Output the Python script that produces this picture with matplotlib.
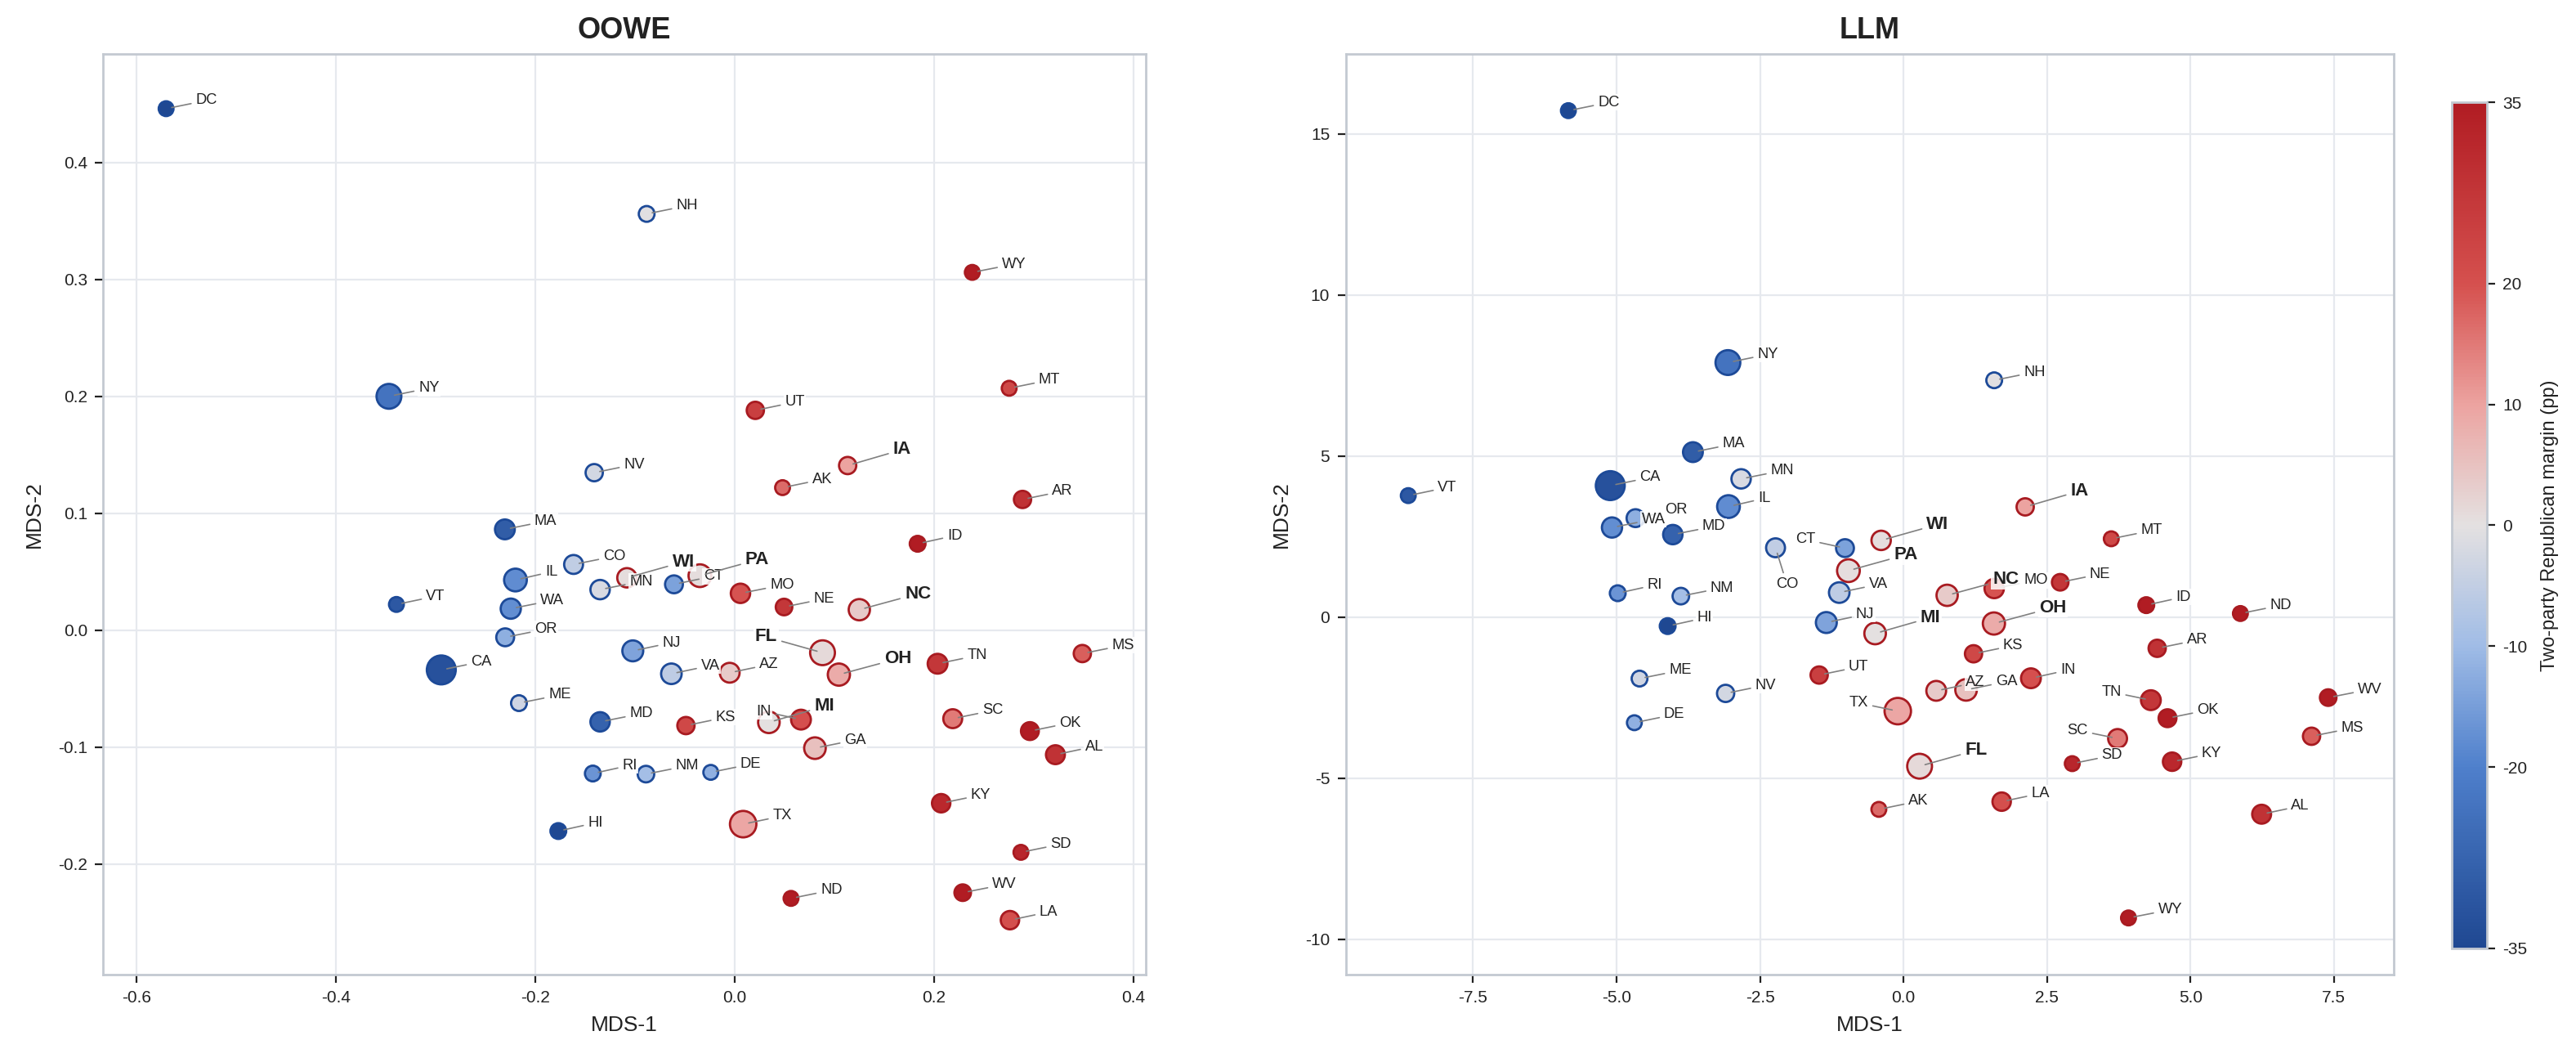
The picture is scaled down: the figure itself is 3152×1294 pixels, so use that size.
import numpy as np
import matplotlib
matplotlib.use("Agg")
import matplotlib.pyplot as plt
from matplotlib.colors import LinearSegmentedColormap, Normalize
from matplotlib.cm import ScalarMappable

plt.rcParams['font.family'] = ['Liberation Sans', 'DejaVu Sans']
plt.rcParams['axes.unicode_minus'] = False

# ---------------- data ----------------
states = ["AL", "AK", "AZ", "AR", "CA", "CO", "CT", "DE", "DC", "FL", "GA", "HI", "ID",
          "IL", "IN", "IA", "KS", "KY", "LA", "ME", "MD", "MA", "MI", "MN", "MS", "MO",
          "MT", "NE", "NV", "NH", "NJ", "NM", "NY", "NC", "ND", "OH", "OK", "OR", "PA",
          "RI", "SC", "SD", "TN", "TX", "UT", "VT", "VA", "WA", "WV", "WI", "WY"]

# two-party Republican margin (pp)
margin = [28.7, 16.8, 3.8, 28.6, -32.3, -5.4, -14.3, -11.9, -91.4, 1.2, 5.3, -34.9, 36.6,
          -18.0, 20.0, 10.1, 22.2, 31.3, 20.4, -3.2, -28.0, -29.3, 0.2, -1.7, 18.2, 19.6,
          22.2, 27.1, -2.6, -0.4, -14.2, -9.3, -23.5, 3.8, 39.6, 8.5, 38.8, -12.3, 0.75,
          -16.6, 14.9, 31.9, 27.2, 9.4, 24.8, -30.4, -5.6, -17.6, 44.3, 0.8, 51.8]

electoral_votes = [9, 3, 11, 6, 55, 9, 7, 3, 3, 29, 16, 4, 4, 20, 11, 6, 6, 8, 8, 4, 10, 11,
                   16, 10, 6, 10, 3, 5, 6, 4, 14, 5, 29, 15, 3, 18, 7, 7, 20, 4, 9, 3, 11,
                   38, 6, 3, 13, 12, 5, 10, 3]

swing_states = ["WI", "PA", "NC", "MI", "IA", "FL", "OH"]

oowe_x = [0.322, 0.0483, -0.0047, 0.289, -0.294, -0.1613, -0.0606, -0.0237, -0.570, 0.0884,
          0.0808, -0.1766, 0.1838, -0.2196, 0.0668, 0.1136, -0.0486, 0.2074, 0.2764, -0.2161,
          -0.1347, -0.2302, 0.0346, -0.1347, 0.349, 0.0061, 0.2756, 0.0498, -0.1406, -0.088,
          -0.1019, -0.0887, -0.3465, 0.1253, 0.0568, 0.1048, 0.2964, -0.2299, -0.0346, -0.142,
          0.219, 0.2874, 0.2038, 0.0088, 0.021, -0.339, -0.0632, -0.2243, 0.229, -0.1078, 0.2386]
oowe_y = [-0.1065, 0.1219, -0.0364, 0.1118, -0.034, 0.0562, 0.0392, -0.1216, 0.446, -0.0193,
          -0.1009, -0.1718, 0.0739, 0.0429, -0.0765, 0.1408, -0.0816, -0.148, -0.248, -0.0624,
          -0.0784, 0.0862, -0.0788, 0.0347, -0.020, 0.0315, 0.2069, 0.0198, 0.1347, 0.356,
          -0.0177, -0.1231, 0.200, 0.0175, -0.2294, -0.038, -0.0863, -0.0061, 0.0466, -0.1226,
          -0.0757, -0.190, -0.0287, -0.1659, 0.188, 0.022, -0.0373, 0.0184, -0.2245, 0.0448, 0.306]

llm_x = [6.24, -0.43, 0.57, 4.42, -5.11, -2.23, -1.02, -4.69, -5.84, 0.28, 1.09, -4.11, 4.23,
         -3.05, 2.22, 2.12, 1.22, 4.68, 1.71, -4.60, -4.02, -3.67, -0.495, -2.83, 7.11, 1.58,
         3.62, 2.73, -3.10, 1.58, -1.345, -3.88, -3.06, 0.76, 5.87, 1.575, 4.60, -4.67, -0.96,
         -4.98, 3.73, 2.94, 4.31, -0.10, -1.47, -8.63, -1.12, -5.08, 7.40, -0.39, 3.92]
llm_y = [-6.12, -5.97, -2.29, -0.97, 4.08, 2.15, 2.14, -3.28, 15.72, -4.63, -2.26, -0.28, 0.37,
         3.43, -1.90, 3.42, -1.14, -4.49, -5.73, -1.91, 2.56, 5.12, -0.51, 4.29, -3.70, 0.886,
         2.43, 1.08, -2.37, 7.35, -0.17, 0.65, 7.90, 0.675, 0.11, -0.20, -3.14, 3.07, 1.44,
         0.74, -3.77, -4.55, -2.58, -2.92, -1.80, 3.77, 0.76, 2.78, -2.50, 2.38, -9.34]

cbar_ticks = [-35, -20, -10, 0, 10, 20, 35]

# ---------------- style / layout ----------------
cmap = LinearSegmentedColormap.from_list(
    "margin",
    [(0.0, "#1f4892"), (0.214, "#4f80cc"), (0.357, "#a0bce6"), (0.5, "#e4e1e1"),
     (0.643, "#eca3a0"), (0.786, "#d5504e"), (1.0, "#b11c23")])
norm = Normalize(vmin=-35, vmax=35)

BLUE_EDGE = "#1d4a98"
RED_EDGE = "#a81b21"
TXT = "#222222"
SPINE = "#c3c9d1"
GRID = "#e6e9ee"

# label placement overrides: (dx_pt, dy_pt, ha)
DEFAULT = (13.0, 3.6, "left")
SWING = (20.0, 7.0, "left")
left_over = {"FL": (-20.0, 7.0, "right"), "IN": (-13.0, 3.6, "right")}
right_over = {"CO": (5.0, -16.0, "center"), "CT": (-13.0, 3.8, "right"),
              "TX": (-13.0, 3.6, "right"), "SC": (-13.0, 3.6, "right"),
              "TN": (-13.0, 3.6, "right")}

fig = plt.figure(figsize=(15.76, 6.47), dpi=200)
axL = fig.add_axes([0.0401, 0.0788, 0.4046, 0.8702])
axR = fig.add_axes([0.5224, 0.0788, 0.4068, 0.8702])
cax = fig.add_axes([0.9518, 0.1036, 0.0136, 0.7998])

m = np.array(margin, dtype=float)
ev = np.array(electoral_votes, dtype=float)
sizes = 6.0 + 21.0 * np.sqrt(ev)
edges = [RED_EDGE if v > 0 else BLUE_EDGE for v in m]
cvals = np.clip(m, -35, 35)


def draw(ax, xs, ys, title, overrides, xlim, ylim, xticks, yticks):
    ax.set_axisbelow(True)
    ax.grid(True, color=GRID, lw=0.8)
    ax.scatter(xs, ys, s=sizes, c=cvals, cmap=cmap, norm=norm,
               edgecolors=edges, linewidths=1.0, zorder=3)
    for st, x, y in zip(states, xs, ys):
        bold = st in swing_states
        dx, dy, ha = overrides.get(st, SWING if bold else DEFAULT)
        ax.annotate(st, xy=(x, y), xytext=(dx, dy), textcoords="offset points",
                    ha=ha, va="center", fontsize=8 if bold else 6.6,
                    fontweight="bold" if bold else "normal", color=TXT, zorder=5,
                    bbox=dict(boxstyle="square,pad=0.08", fc="white", ec="none", alpha=0.85),
                    arrowprops=dict(arrowstyle="-", color="#808080", lw=0.6,
                                    shrinkA=1.5, shrinkB=2.5))
    ax.set_xlim(*xlim)
    ax.set_ylim(*ylim)
    ax.set_xticks(xticks)
    ax.set_yticks(yticks)
    ax.set_title(title, fontsize=13, fontweight="bold", color=TXT, pad=7)
    ax.set_xlabel("MDS-1", fontsize=9.5, color=TXT, labelpad=4)
    ax.set_ylabel("MDS-2", fontsize=9.5, color=TXT, labelpad=6)
    ax.tick_params(labelsize=7.5, colors=TXT, length=3.5, width=0.8)
    for sp in ax.spines.values():
        sp.set_color(SPINE)
        sp.set_linewidth(1.0)


draw(axL, oowe_x, oowe_y, "OOWE", left_over, (-0.633, 0.4124), (-0.2946, 0.4928),
     np.arange(-0.6, 0.41, 0.2), np.arange(-0.2, 0.41, 0.1))
draw(axR, llm_x, llm_y, "LLM", right_over, (-9.72, 8.54), (-11.1, 17.48),
     np.arange(-7.5, 7.6, 2.5), np.arange(-10, 16, 5))

cb = fig.colorbar(ScalarMappable(norm=norm, cmap=cmap), cax=cax, ticks=cbar_ticks)
cb.outline.set_edgecolor(SPINE)
cb.outline.set_linewidth(1.0)
cb.ax.tick_params(labelsize=7.5, colors=TXT, length=3.5, width=0.8)
cb.set_label("Two-party Republican margin (pp)", fontsize=8.5, color=TXT, labelpad=6)

fig.savefig("out.png", dpi=200)
